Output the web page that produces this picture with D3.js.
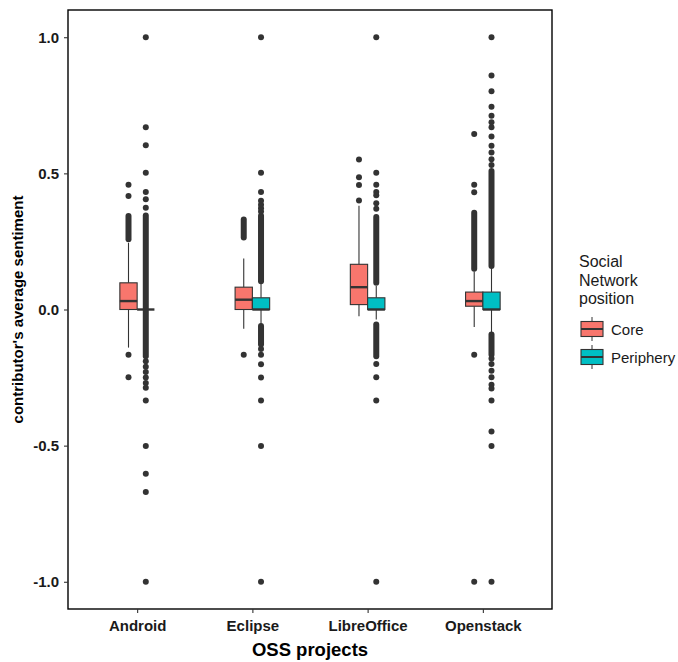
<!DOCTYPE html>
<html>
<head>
<meta charset="utf-8">
<script src="https://cdn.jsdelivr.net/npm/d3@7"></script>
<style>
  body { margin: 0; background: #fff; }
  text { font-family: "Liberation Sans", Arial, sans-serif; }
</style>
</head>
<body>
<div id="chart"></div>
<script>
// projects on the x axis and the two network positions
var projects = ["Android", "Eclipse", "LibreOffice", "Openstack"];
var positions = ["Core", "Periphery"];
var colours = ["#F8766D", "#00BFC4"];
var yTicks = [-1.0, -0.5, 0.0, 0.5, 1.0];

// box stats per project: [lower whisker, q1, median, q3, upper whisker]
var coreBoxes = [
  [-0.140, 0.000, 0.031, 0.098, 0.245],
  [-0.071, 0.000, 0.036, 0.082, 0.187],
  [-0.025, 0.018, 0.082, 0.166, 0.381],
  [-0.064, 0.012, 0.031, 0.064, 0.140]
];
var peripheryBoxes = [
  [0.000, 0.000, 0.000, 0.000, 0.000],
  [-0.055, 0.000, 0.000, 0.043, 0.098],
  [-0.037, 0.000, 0.000, 0.043, 0.086],
  [-0.086, 0.000, 0.000, 0.064, 0.153]
];

// single outliers per project
var coreOutliers = [
  [0.417, 0.458, -0.166, -0.249],
  [-0.166],
  [0.400, 0.457, 0.486, 0.551],
  [0.431, 0.458, 0.645, -0.166, -1.0]
];
var peripheryOutliers = [
  [0.374, 0.405, 0.432, 0.502, 0.603, 0.669, 1.0,
   -0.19, -0.21, -0.23, -0.25, -0.27, -0.287, -0.334, -0.501, -0.603, -0.670, -1.0],
  [0.360, 0.372, 0.385, 0.399, 0.432, 0.502, 1.0,
   -0.145, -0.166, -0.201, -0.250, -0.334, -0.501, -1.0],
  [0.370, 0.390, 0.420, 0.432, 0.458, 0.502, 1.0,
   -0.200, -0.249, -0.334, -1.0],
  [0.531, 0.552, 0.577, 0.601, 0.635, 0.669, 0.688, 0.712, 0.745, 0.802, 0.859, 1.0,
   -0.180, -0.200, -0.225, -0.249, -0.276, -0.290, -0.334, -0.448, -0.501, -1.0]
];

// stretches where outliers overlap into a solid column: [from, to]
var coreRuns = [
  [[0.258, 0.343]],
  [[0.264, 0.331]],
  [],
  [[0.150, 0.355]]
];
var peripheryRuns = [
  [[-0.172, 0.345]],
  [[0.104, 0.344], [-0.129, -0.061]],
  [[0.098, 0.340], [-0.172, -0.055]],
  [[0.160, 0.509], [-0.166, -0.092]]
];

var W = 678, H = 662;
var pL = 68, pR = 552, pT = 10, pB = 609;

var svg = d3.select("#chart").append("svg")
  .attr("width", W).attr("height", H);

// ggplot puts 0.6 units of room on each side of the outer categories
var step = (pR - pL) / (projects.length - 1 + 1.2);
var x = d3.scalePoint().domain(projects)
  .range([pL + 0.6 * step, pR - 0.6 * step]);

var y = d3.scaleLinear().domain([-1.1, 1.1]).range([pB, pT]);

var dodge = d3.scaleBand().domain(positions).range([-0.15 * step, 0.15 * step]);
var boxW = dodge.bandwidth();

var series = [
  { name: "Core", boxes: coreBoxes, outliers: coreOutliers, runs: coreRuns, colour: colours[0] },
  { name: "Periphery", boxes: peripheryBoxes, outliers: peripheryOutliers, runs: peripheryRuns, colour: colours[1] }
];

var plot = svg.append("g");

series.forEach(function (s) {
  projects.forEach(function (p, i) {
    var cx = x(p) + dodge(s.name) + boxW / 2;
    var b = s.boxes[i];
    var g = plot.append("g");

    // whiskers
    g.append("line").attr("x1", cx).attr("x2", cx)
      .attr("y1", y(b[3])).attr("y2", y(b[4]))
      .attr("stroke", "#333333").attr("stroke-width", 1.1);
    g.append("line").attr("x1", cx).attr("x2", cx)
      .attr("y1", y(b[1])).attr("y2", y(b[0]))
      .attr("stroke", "#333333").attr("stroke-width", 1.1);

    // outlier columns
    s.runs[i].forEach(function (r) {
      g.append("line").attr("x1", cx).attr("x2", cx)
        .attr("y1", y(r[0])).attr("y2", y(r[1]))
        .attr("stroke", "#333333").attr("stroke-width", 6)
        .attr("stroke-linecap", "round");
    });
    g.selectAll("circle.out").data(s.outliers[i]).enter()
      .append("circle").attr("class", "out")
      .attr("cx", cx).attr("cy", function (d) { return y(d); })
      .attr("r", 3).attr("fill", "#333333");

    // box
    g.append("rect")
      .attr("x", cx - boxW / 2).attr("width", boxW)
      .attr("y", y(b[3])).attr("height", Math.max(0, y(b[1]) - y(b[3])))
      .attr("fill", s.colour).attr("stroke", "#333333").attr("stroke-width", 1.1);
    g.append("line")
      .attr("x1", cx - boxW / 2).attr("x2", cx + boxW / 2)
      .attr("y1", y(b[2])).attr("y2", y(b[2]))
      .attr("stroke", "#333333").attr("stroke-width", 2.4);
  });
});

// panel border
svg.append("rect").attr("x", pL).attr("y", pT)
  .attr("width", pR - pL).attr("height", pB - pT)
  .attr("fill", "none").attr("stroke", "#000").attr("stroke-width", 1.4);

// axes
var xAxis = svg.append("g").attr("transform", "translate(0," + pB + ")")
  .call(d3.axisBottom(x).tickSize(4).tickPadding(7));
var yAxis = svg.append("g").attr("transform", "translate(" + pL + ",0)")
  .call(d3.axisLeft(y).tickValues(yTicks).tickFormat(d3.format(".1f")).tickSize(4).tickPadding(5));
[xAxis, yAxis].forEach(function (a) {
  a.select(".domain").remove();
  a.selectAll(".tick line").attr("stroke", "#333333").attr("stroke-width", 1.1);
  a.selectAll(".tick text").attr("fill", "#1a1a1a")
    .style("font-size", "15px").style("font-weight", "bold")
    .style("font-family", "'Liberation Sans', Arial, sans-serif");
});
yAxis.selectAll(".tick text").text(function (d) { return d3.format(".1f")(d).replace("−", "-"); });

// axis titles
svg.append("text").attr("x", (pL + pR) / 2).attr("y", 656)
  .attr("text-anchor", "middle").style("font-size", "18.5px").style("font-weight", "bold")
  .text("OSS projects");
svg.append("text")
  .attr("transform", "translate(23," + ((pT + pB) / 2) + ") rotate(-90)")
  .attr("text-anchor", "middle").style("font-size", "15px").style("font-weight", "bold")
  .text("contributor's average sentiment");

// legend
var lg = svg.append("g").attr("transform", "translate(579,0)");
["Social", "Network", "position"].forEach(function (t, i) {
  lg.append("text").attr("x", 0).attr("y", 267 + i * 18.5)
    .style("font-size", "16px").attr("fill", "#1a1a1a").text(t);
});
positions.forEach(function (p, i) {
  var cy = 329 + i * 28;
  var k = lg.append("g");
  k.append("line").attr("x1", 13).attr("x2", 13).attr("y1", cy - 12).attr("y2", cy + 12)
    .attr("stroke", "#333333").attr("stroke-width", 1);
  k.append("rect").attr("x", 2).attr("y", cy - 7.5).attr("width", 22).attr("height", 15)
    .attr("fill", colours[i]).attr("stroke", "#333333").attr("stroke-width", 1.1);
  k.append("line").attr("x1", 2).attr("x2", 24).attr("y1", cy).attr("y2", cy)
    .attr("stroke", "#333333").attr("stroke-width", 2);
  lg.append("text").attr("x", 32).attr("y", cy + 5.5)
    .style("font-size", "15px").attr("fill", "#1a1a1a").text(p);
});
</script>
</body>
</html>
